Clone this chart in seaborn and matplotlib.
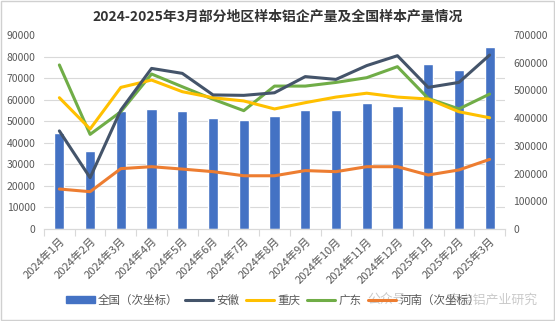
import matplotlib
matplotlib.use("Agg")
import matplotlib.pyplot as plt
import matplotlib.ticker as mticker
from matplotlib.patches import Patch, Rectangle
from matplotlib.lines import Line2D
import numpy as np
import pandas as pd
import seaborn as sns

sns.set_theme(style="white")
plt.rcParams['font.family'] = ['Noto Sans CJK SC', 'DejaVu Sans']
plt.rcParams['axes.unicode_minus'] = False

months = ["2024年1月", "2024年2月", "2024年3月", "2024年4月", "2024年5月", "2024年6月",
          "2024年7月", "2024年8月", "2024年9月", "2024年10月", "2024年11月", "2024年12月",
          "2025年1月", "2025年2月", "2025年3月"]
national = [345000, 282000, 427000, 433000, 426000, 400000, 393000, 408000,
            429000, 429000, 456000, 444000, 595000, 574000, 658000]
anhui = [45500, 23800, 55200, 74500, 72200, 62200, 62000, 63200,
         70700, 69400, 75800, 80400, 65700, 68000, 80700]
chongqing = [60900, 46400, 65700, 69100, 63700, 60900, 59400, 55700,
             58600, 61200, 63000, 61200, 60300, 54400, 51600]
guangdong = [76100, 43900, 54400, 71900, 66000, 60200, 54900, 66300,
             66300, 68000, 70200, 75300, 60600, 55700, 62600]
henan = [144300, 134600, 217800, 224800, 216200, 206900, 192100, 192100,
         210800, 206900, 224800, 224800, 194800, 213100, 251200]

df = pd.DataFrame({"月份": months, "全国": national, "安徽": anhui,
                   "重庆": chongqing, "广东": guangdong, "河南": henan})

C_BAR = "#4472C4"
C_AH = "#44546A"
C_CQ = "#FFC000"
C_GD = "#70AD47"
C_HN = "#ED7D31"
TXT = "#595959"
GRID = "#D9D9D9"

fig = plt.figure(figsize=(5.55, 3.21), dpi=100)
ax = fig.add_axes([44/555, 1-229/321, 461/555, 194/321])  # secondary (right) scale, bars
ax2 = ax.twinx()  # primary (left) scale, lines

sns.barplot(data=df, x="月份", y="全国", color=C_BAR, width=0.33, ax=ax,
            saturation=1, zorder=2)
sns.lineplot(data=df, x="月份", y="河南", color=C_HN, lw=2.2, ax=ax, zorder=3)

for col, c in [("广东", C_GD), ("重庆", C_CQ), ("安徽", C_AH)]:
    sns.lineplot(data=df, x="月份", y=col, color=c, lw=2.2, ax=ax2)

# right scale axis (bars)
ax.set_ylim(0, 700000)
ax.yaxis.tick_right()
ax.yaxis.set_label_position("right")
ax.yaxis.set_major_locator(mticker.MultipleLocator(100000))
ax.yaxis.set_minor_locator(mticker.FixedLocator(np.linspace(0, 700000, 10)))
ax.grid(which="minor", axis="y", color=GRID, lw=0.8, zorder=0)
ax.grid(which="major", axis="y", visible=False)
ax.set_axisbelow(True)
ax.tick_params(axis="y", which="both", length=0, labelsize=7.5, labelcolor=TXT, pad=6)

# left scale axis (lines)
ax2.set_ylim(0, 90000)
ax2.yaxis.tick_left()
ax2.yaxis.set_label_position("left")
ax2.yaxis.set_major_locator(mticker.MultipleLocator(10000))
ax2.tick_params(axis="y", length=0, labelsize=7.5, labelcolor=TXT, pad=6)
ax2.grid(False)

for a in (ax, ax2):
    a.set_xlabel("")
    a.set_ylabel("")
    for s in ["top", "left", "right"]:
        a.spines[s].set_visible(False)
    a.spines["bottom"].set_color(GRID)
    a.spines["bottom"].set_linewidth(0.8)
    if a.get_legend():
        a.get_legend().remove()

ax.set_xlim(-0.5, len(months) - 0.5)
ax.set_xticks(range(len(months)))
ax.set_xticklabels(months, rotation=45, ha="right", rotation_mode="anchor",
                   fontsize=8, color=TXT)
ax.xaxis.set_minor_locator(mticker.FixedLocator(np.arange(-0.5, len(months), 1.0)))
ax.tick_params(axis="x", which="major", length=0, pad=5)
ax.tick_params(axis="x", which="minor", length=5, color=GRID, width=0.8, bottom=True)

fig.text(0.5, 1-17/321, "2024-2025年3月部分地区样本铝企产量及全国样本产量情况",
         ha="center", va="center", fontsize=10, fontweight="bold", color="#333333")

# watermark (behind legend)
fig.text(367/555, 1-300/321, "公众号", ha="left", va="center",
         fontsize=9.3, color="#A8A8A8", alpha=0.6, zorder=0)
fig.text(447/555, 1-300/321, "家宝铝产业研究", ha="left", va="center",
         fontsize=9.3, color="#A8A8A8", alpha=0.6, zorder=0)

handles = [Patch(color=C_BAR), Line2D([], [], color=C_AH, lw=2.2),
           Line2D([], [], color=C_CQ, lw=2.2), Line2D([], [], color=C_GD, lw=2.2),
           Line2D([], [], color=C_HN, lw=2.2)]
labels = ["全国（次坐标）", "安徽", "重庆", "广东", "河南（次坐标）"]
fig.legend(handles, labels, loc="center", bbox_to_anchor=(273/555, 1-300/321), ncol=5,
           frameon=False, fontsize=8.3, labelcolor=TXT, handlelength=2.45,
           handleheight=0.6, handletextpad=0.25, columnspacing=0.6, borderpad=0.2)

fig.patches.append(Rectangle((0.001, 0.002), 0.997, 0.995, transform=fig.transFigure,
                             fill=False, edgecolor="#D0D0D0", lw=1))

fig.savefig("out.png", dpi=100)
